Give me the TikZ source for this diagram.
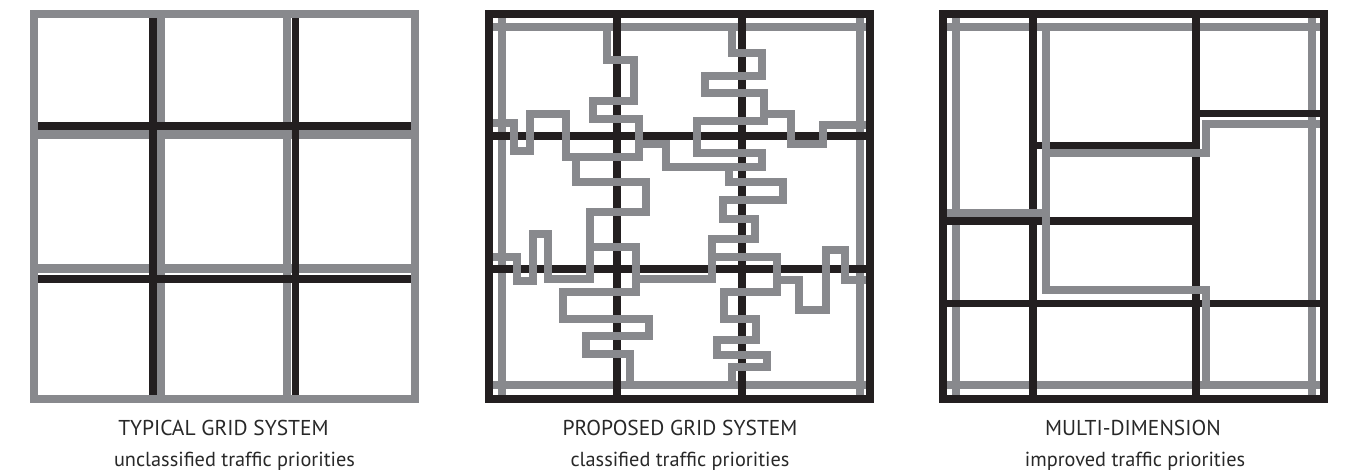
\documentclass[tikz,border=0pt]{standalone}
\usepackage{fontspec}
\setmainfont{PT Sans}
\definecolor{rgrey}{RGB}{136,137,141}
\definecolor{rblack}{RGB}{35,31,32}
\definecolor{rtext}{RGB}{40,40,40}
\tikzset{
  gline/.style={draw=rgrey, line width=8pt, line join=miter},
  gpath/.style={draw=rgrey, line width=8pt, line join=miter, line cap=rect},
  bline/.style={draw=rblack, line width=7.5pt, line join=miter},
  title/.style={text=rtext, font=\fontsize{21.5}{22}\selectfont, anchor=center, inner sep=0pt},
  subtitle/.style={text=rtext, font=\fontsize{20.3}{21}\selectfont, anchor=center, inner sep=0pt}
}
\begin{document}
\begin{tikzpicture}[x=1pt, y=-1pt]
\useasboundingbox (0,0) rectangle (1345,470);
\fill[white] (0,0) rectangle (1345,470);

% ---------- Panel 1: typical grid ----------
\draw[gline, line width=8.5pt] (34,14) rectangle (415,399);
\draw[gline, line width=8.5pt] (161,14) -- (161,399);
\draw[gline, line width=8.5pt] (287.2,14) -- (287.2,399);
\draw[gline, line width=8.5pt] (34,134.7) -- (415,134.7);
\draw[gline, line width=8.5pt] (34,268.5) -- (415,268.5);
\draw[bline] (152.8,18.25) -- (152.8,394.75);
\draw[bline] (295.5,18.25) -- (295.5,394.75);
\draw[bline] (38.25,126.2) -- (410.75,126.2);
\draw[bline] (38.25,278.8) -- (410.75,278.8);

% ---------- Panel 2: proposed grid ----------
\draw[gline] (502,18) -- (502,395);
\draw[gline] (860,18) -- (860,395);
\draw[gline] (493,27) -- (866,27);
\draw[gline] (493,385.5) -- (866,385.5);
\draw[bline, line width=8pt] (489,14) rectangle (870,399);
\draw[bline] (617,14) -- (617,399);
\draw[bline] (742,14) -- (742,399);
\draw[bline] (489,136) -- (870,136);
\draw[bline] (489,269) -- (870,269);
% meanders
\draw[gpath] (607,27) -- (607,60) -- (634,60) -- (634,100.7) -- (593,100.7) -- (593,119.5) -- (639,119.5) -- (639,157.5);
\draw[gpath] (639,144) -- (666,144) -- (666,167.5) -- (729,167.5);
\draw[gpath] (497,123) -- (514,123) -- (514,151) -- (530,151) -- (530,114) -- (566,114) -- (566,157.5) -- (639,157.5);
\draw[gpath] (576,157.5) -- (576,182) -- (646,182) -- (646,212) -- (590,212) -- (590,279);
\draw[gpath] (590,247.5) -- (636,247.5) -- (636,292) -- (563,292) -- (563,318.7) -- (649,318.7) -- (649,336) -- (586,336) -- (586,354) -- (630,354) -- (630,385.5);
\draw[gpath] (497,257.5) -- (517,257.5) -- (517,281) -- (533,281) -- (533,234) -- (548,234) -- (548,279) -- (590,279);
\draw[gpath] (636,279) -- (712,279);
\draw[gpath] (732,27) -- (732,53) -- (762,53) -- (762,76) -- (704.5,76) -- (704.5,92.8) -- (764,92.8) -- (764,121) -- (697,121) -- (697,153) -- (762,153) -- (762,167.5) -- (729,167.5) -- (729,182) -- (783,182) -- (783,200) -- (723,200) -- (723,219.5) -- (755,219.5) -- (755,239.5) -- (712,239.5) -- (712,279);
\draw[gpath] (712,257) -- (777,257) -- (777,291.7) -- (724,291.7) -- (724,318.8) -- (756,318.8) -- (756,339.6) -- (717,339.6) -- (717,355.5) -- (767,355.5) -- (767,367) -- (732,367) -- (732,385.5);
\draw[gpath] (764,113.7) -- (790.5,113.7) -- (790.5,144) -- (823,144) -- (823,125.5) -- (862,125.5);
\draw[gpath] (777,280) -- (798.5,280) -- (798.5,309.7) -- (826,309.7) -- (826,250.3) -- (844.7,250.3) -- (844.7,279.7) -- (862,279.7);

% ---------- Panel 3: multi-dimension ----------
\draw[gline] (956,18) -- (956,395);
\draw[gline] (1312,18) -- (1312,395);
\draw[gline] (947.3,27) -- (1320,27);
\draw[gline] (947.3,385.5) -- (1320,385.5);
\draw[bline, line width=8pt] (943.3,14) rectangle (1324,399);
\draw[bline] (1033,14) -- (1033,399);
\draw[bline] (1196,14) -- (1196,399);
\draw[bline] (1196,113.7) -- (1324,113.7);
\draw[bline] (1033,145.3) -- (1196,145.3);
\draw[bline] (943.3,221) -- (1196,221);
\draw[bline] (943.3,303.7) -- (1324,303.7);
\draw[gpath] (951.3,213) -- (1045.5,213);
\draw[gpath] (1045.5,27) -- (1045.5,289.7) -- (1205.5,289.7) -- (1205.5,385.5);
\draw[gpath] (1045.5,153) -- (1205.5,153) -- (1205.5,124.5) -- (1316,124.5);

% ---------- Captions ----------
\node[title] (t1) at (223.5,428) {TYPICAL GRID SYSTEM};
\node[subtitle] (s1) at (234.5,461) {unclassified traffic priorities};
\node[title] (t2) at (680,428) {PROPOSED GRID SYSTEM};
\node[subtitle] (s2) at (680,461) {classified traffic priorities};
\node[title] (t3) at (1133,428) {MULTI-DIMENSION};
\node[subtitle] (s3) at (1135,461) {improved traffic priorities};
\end{tikzpicture}
\end{document}
